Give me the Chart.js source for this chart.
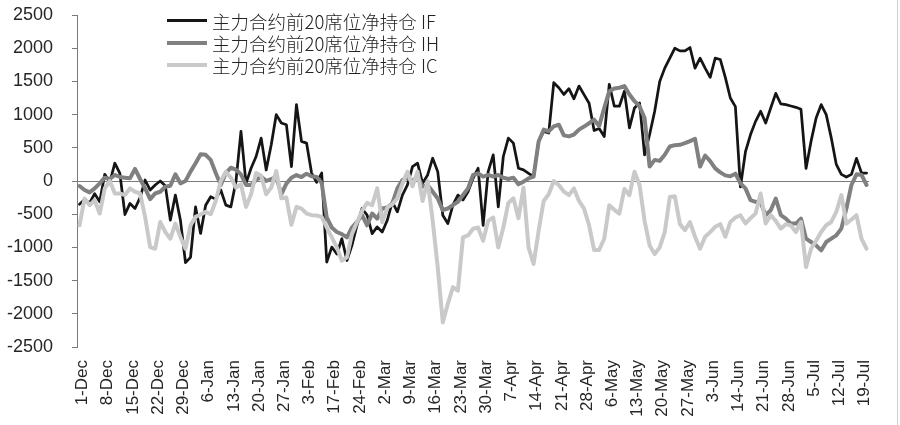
<!DOCTYPE html>
<html>
<head>
<meta charset="utf-8">
<script src="https://cdn.jsdelivr.net/npm/chart.js@4.4.0/dist/chart.umd.min.js"></script>
<style>
html,body{margin:0;padding:0;background:#fff;}
#wrap{position:relative;width:900px;height:425px;overflow:hidden;}
#c{position:absolute;left:0;top:0;}
#legend{position:absolute;left:167px;top:0;font-family:"Noto Sans CJK SC","Noto Sans",sans-serif;font-size:18.5px;font-weight:300;color:#222;}
.row{position:absolute;left:0;height:22px;white-space:nowrap;}
.sw{position:absolute;left:0;width:40px;}
.tx{position:absolute;left:45px;top:0;line-height:22px;}
#edge{position:absolute;left:897px;top:0;width:1px;height:425px;background:#cfcfcf;}
</style>
</head>
<body>
<div id="wrap">
<canvas id="c" width="900" height="425"></canvas>
<div id="legend"></div>
<div id="edge"></div>
</div>
<script>
// ---- categories (trading days) ----
const dates = [
"1-Dec","2-Dec","3-Dec","4-Dec","7-Dec","8-Dec","9-Dec","10-Dec","11-Dec","14-Dec","15-Dec","16-Dec","17-Dec","18-Dec","21-Dec","22-Dec","23-Dec","24-Dec","25-Dec","28-Dec","29-Dec","30-Dec","31-Dec",
"4-Jan","5-Jan","6-Jan","7-Jan","8-Jan","11-Jan","12-Jan","13-Jan","14-Jan","15-Jan","18-Jan","19-Jan","20-Jan","21-Jan","22-Jan","25-Jan","26-Jan","27-Jan","28-Jan","29-Jan",
"1-Feb","2-Feb","3-Feb","4-Feb","5-Feb","15-Feb","16-Feb","17-Feb","18-Feb","19-Feb","22-Feb","23-Feb","24-Feb","25-Feb","26-Feb","29-Feb",
"1-Mar","2-Mar","3-Mar","4-Mar","7-Mar","8-Mar","9-Mar","10-Mar","11-Mar","14-Mar","15-Mar","16-Mar","17-Mar","18-Mar","21-Mar","22-Mar","23-Mar","24-Mar","25-Mar","28-Mar","29-Mar","30-Mar","31-Mar",
"1-Apr","5-Apr","6-Apr","7-Apr","8-Apr","11-Apr","12-Apr","13-Apr","14-Apr","15-Apr","18-Apr","19-Apr","20-Apr","21-Apr","22-Apr","25-Apr","26-Apr","27-Apr","28-Apr","29-Apr",
"3-May","4-May","5-May","6-May","9-May","10-May","11-May","12-May","13-May","16-May","17-May","18-May","19-May","20-May","23-May","24-May","25-May","26-May","27-May","30-May","31-May",
"1-Jun","2-Jun","3-Jun","6-Jun","7-Jun","8-Jun","13-Jun","14-Jun","15-Jun","16-Jun","17-Jun","20-Jun","21-Jun","22-Jun","23-Jun","24-Jun","27-Jun","28-Jun","29-Jun","30-Jun",
"1-Jul","4-Jul","5-Jul","6-Jul","7-Jul","8-Jul","11-Jul","12-Jul","13-Jul","14-Jul","15-Jul","18-Jul","19-Jul","20-Jul"
];
const labelEvery = 5;

// ---- series names ----
const seriesNames = ["主力合约前20席位净持仓 IF","主力合约前20席位净持仓 IH","主力合约前20席位净持仓 IC"];

// ---- series values ----
const ifNet = [
-350,-280,-330,-190,-313,100,-20,268,116,-505,-338,-414,-250,15,-136,-60,0,-70,-590,-212,-590,-1230,-1150,
-390,-790,-364,-237,-273,-136,-364,-389,-10,747,-35,192,369,646,167,545,1000,874,848,217,
1151,596,571,120,-20,120,-1220,-995,-1100,-869,-1197,-970,-667,-414,-515,-793,
-692,-768,-591,-313,-465,-212,-60,217,268,-35,91,343,141,-515,-641,-364,-212,-288,-162,40,192,-667,141,
394,-389,369,646,570,192,167,116,66,596,747,722,1480,1404,1303,1390,1237,1430,1300,1170,
760,790,670,1455,1126,1126,1353,800,1100,1176,394,700,1050,1500,1700,1850,2000,1960,1960,2010,1700,
1850,1700,1560,1850,1830,1560,1250,1120,-90,444,700,898,1050,873,1100,1320,1160,1150,1130,1110,
1080,190,600,950,1150,1000,650,250,100,60,100,340,120,120
];
const ihNet = [
-76,-136,-172,-111,-35,50,30,91,60,50,40,182,30,-111,-273,-187,-162,-86,-71,101,-35,0,141,
268,404,394,318,120,-60,120,200,170,100,-60,-60,15,66,0,30,60,-200,-40,50,
90,60,110,70,60,-30,-550,-700,-768,-800,-850,-700,-616,-515,-667,-490,
-566,-414,-400,-338,-111,15,50,0,66,-86,-60,-162,-263,-440,-414,-364,-313,-212,-111,91,116,66,91,
66,91,50,30,50,-50,-10,40,66,596,773,747,823,848,687,672,700,773,820,870,
924,830,1100,1353,1394,1404,1429,1303,1202,1126,950,217,318,303,394,520,540,545,570,600,636,
217,384,300,190,130,85,70,110,-35,-111,-288,-313,-323,-515,-440,-263,-515,-566,-641,-641,
-566,-869,-919,-970,-1045,-919,-869,-818,-717,-414,-60,100,91,-60
];
const icNet = [
-667,-263,-364,-288,-490,-111,0,-187,-187,-212,-111,-162,-187,-540,-995,-1020,-616,-768,-869,-641,-843,-1020,-667,
-540,-505,-465,-500,-300,0,140,50,-100,-50,-390,-200,120,80,-200,-100,150,-260,-250,-660,
-390,-415,-490,-515,-520,-540,-700,-850,-1000,-1200,-1150,-800,-620,-450,-330,-365,
-110,-620,-400,-350,-260,-40,140,-80,140,-300,0,-600,-1300,-2130,-1850,-1600,-1650,-850,-820,-720,-700,-900,-600,
-550,-1000,-700,-330,-260,-560,-100,-1000,-1250,-750,-300,-200,0,-60,-160,-213,-112,-300,-415,-667,
-1040,-1040,-870,-364,-434,-490,-120,-213,140,-60,-600,-970,-1100,-1000,-770,-240,-230,-650,-740,-620,-840,
-1020,-840,-770,-690,-650,-840,-617,-550,-515,-640,-560,-490,-188,-640,-515,-600,-718,-650,-670,-768,
-617,-1297,-1020,-900,-768,-667,-617,-465,-213,-642,-580,-515,-870,-1020
];

// ---- axis ticks ----
const yMin = -2500, yMax = 2500, yStep = 500;

const colors = ["#151515","#808080","#c9c9c9"];
const widths = [2.75,4,4];
const legendWidths = [3,4,4];

// legend (HTML text)
const legendEl = document.getElementById('legend');
const legendCenters = [20.5,43,65];
seriesNames.forEach((n,i)=>{
  const row = document.createElement('div');
  row.className='row';
  row.style.top = (legendCenters[i]-11)+'px';
  const sw = document.createElement('div');
  sw.className='sw';
  sw.style.height = legendWidths[i]+'px';
  sw.style.top = (11-legendWidths[i]/2)+'px';
  sw.style.background = colors[i];
  const tx = document.createElement('div');
  tx.className='tx';
  tx.textContent = n;
  row.appendChild(sw); row.appendChild(tx);
  legendEl.appendChild(row);
});

const xFont = {family:"'Liberation Sans', Arial, sans-serif", size:17};
const yFont = {family:"'Liberation Sans', Arial, sans-serif", size:18};
const axisGray = '#7a7a7a';

new Chart(document.getElementById('c').getContext('2d'), {
  type:'line',
  data:{
    labels:dates,
    datasets:[
      {label:seriesNames[0], data:ifNet, borderColor:colors[0], borderWidth:widths[0], order:3},
      {label:seriesNames[1], data:ihNet, borderColor:colors[1], borderWidth:widths[1], order:2},
      {label:seriesNames[2], data:icNet, borderColor:colors[2], borderWidth:widths[2], order:1}
    ]
  },
  options:{
    responsive:false,
    animation:false,
    devicePixelRatio:1,
    elements:{
      point:{radius:0, hoverRadius:0},
      line:{tension:0, borderJoinStyle:'round', borderCapStyle:'round', fill:false}
    },
    layout:{padding:{top:15, right:9, left:0, bottom:0}},
    plugins:{legend:{display:false}, tooltip:{enabled:false}},
    scales:{
      x:{
        type:'category',
        offset:true,
        grid:{display:false, drawTicks:false},
        border:{display:false},
        ticks:{
          autoSkip:false, maxRotation:90, minRotation:90, padding:13, labelOffset:3,
          color:'#262626', font:xFont,
          callback:function(v,i){ return i % labelEvery === 0 ? this.getLabelForValue(v) : ''; }
        },
        afterFit:function(s){ s.height = 78; }
      },
      y:{
        min:yMin, max:yMax,
        ticks:{stepSize:yStep, padding:19, color:'#262626', font:yFont,
          callback:function(v){ return String(v); }},
        grid:{
          color:function(c){ return (c.tick && c.tick.value === 0) ? axisGray : 'rgba(0,0,0,0)'; },
          tickColor:axisGray, tickLength:5, drawTicks:true, lineWidth:1
        },
        border:{display:true, color:axisGray, width:1},
        afterFit:function(s){ s.width = 77; s.paddingTop = 0; s.paddingBottom = 0; }
      }
    }
  }
});
</script>
</body>
</html>
